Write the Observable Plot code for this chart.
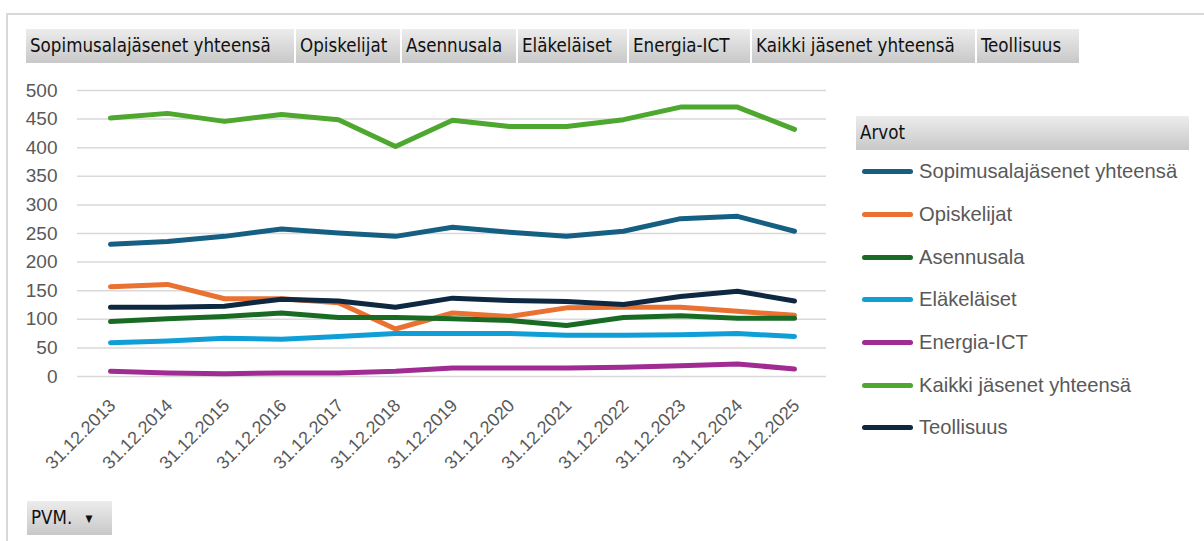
<!DOCTYPE html>
<html>
<head>
<meta charset="utf-8">
<script src="https://cdn.jsdelivr.net/npm/d3@7"></script>
<script src="https://cdn.jsdelivr.net/npm/@observablehq/plot@0.6"></script>
<style>
  html, body { margin: 0; padding: 0; background: #fff; }
  #root { position: relative; width: 1204px; height: 541px; overflow: hidden; background: #fff; }
  #frame { position: absolute; left: 6px; top: 13px; right: -10px; bottom: -10px; border: 2px solid #d9d9d9; }
  .btn { position: absolute; top: 29px; height: 34px; box-sizing: border-box;
         background: linear-gradient(#ececec, #c8c8c8); color: #111;
         font-family: "DejaVu Sans Condensed", "DejaVu Sans", sans-serif; font-size: 18.6px;
         line-height: 34px; padding-left: 4px; white-space: nowrap; overflow: hidden; }
  #chart { position: absolute; left: 0; top: 0; }
  #legend { position: absolute; left: 856px; top: 116px; width: 333px; font-family: "Liberation Sans", Arial, sans-serif; }
  #legend .head { height: 34px; line-height: 34px; background: linear-gradient(#ececec, #c8c8c8);
                  font-family: "DejaVu Sans Condensed", "DejaVu Sans", sans-serif; font-size: 18.6px; color: #111; padding-left: 4px; }
  #legend .item { position: absolute; left: 6px; height: 24px; display: flex; align-items: center; color: #595959; font-size: 20.2px; white-space: nowrap; }
  #legend .sw { width: 51px; height: 5px; border-radius: 3px; margin-right: 6px; }
</style>
</head>
<body>
<div id="root">
  <div id="frame"></div>
  <div id="buttons"></div>
  <div id="chart"></div>
  <div id="legend"><div class="head">Arvot</div></div>
  <div class="btn" style="top:501px; left:27px; width:85px; padding-left:4px;">PVM. <span style="font-size:10px; margin-left:8px; vertical-align:2px;">▼</span></div>
</div>
<script>
// ---- data ----
const dates = ["31.12.2013","31.12.2014","31.12.2015","31.12.2016","31.12.2017","31.12.2018","31.12.2019","31.12.2020","31.12.2021","31.12.2022","31.12.2023","31.12.2024","31.12.2025"];
const seriesNames = ["Sopimusalajäsenet yhteensä","Opiskelijat","Asennusala","Eläkeläiset","Energia-ICT","Kaikki jäsenet yhteensä","Teollisuus"];
const sopimusala  = [231, 236, 245, 258, 251, 245, 261, 252, 245, 254, 276, 280, 254];
const opiskelijat = [157, 161, 136, 136, 129, 83, 111, 105, 120, 121, 121, 114, 107];
const asennusala  = [96, 101, 105, 111, 103, 103, 101, 98, 89, 103, 106, 102, 102];
const elakelaiset = [59, 62, 67, 65, 70, 75, 75, 75, 72, 72, 73, 75, 70];
const energiaIct  = [9, 6, 5, 6, 6, 9, 15, 15, 15, 16, 19, 22, 13];
const kaikki      = [452, 460, 446, 458, 449, 402, 448, 437, 437, 449, 471, 471, 432];
const teollisuus  = [121, 121, 123, 135, 132, 121, 137, 133, 131, 126, 140, 149, 132];
const yTicks = [0, 50, 100, 150, 200, 250, 300, 350, 400, 450, 500];

// ---- styles / layout ----
const colors = ["#156082","#E97132","#196B24","#0F9ED5","#A02B93","#4EA72E","#0E2841"];
const buttonLefts  = [26, 296, 402, 518, 629, 752, 977];
const buttonWidths = [268, 104, 114, 109, 121, 223, 102];

const values = [sopimusala, opiskelijat, asennusala, elakelaiset, energiaIct, kaikki, teollisuus];
const data = seriesNames.flatMap((s, i) => dates.map((d, j) => ({series: s, date: d, value: values[i][j]})));

// field buttons
const btns = document.getElementById("buttons");
seriesNames.forEach((s, i) => {
  const b = document.createElement("div");
  b.className = "btn";
  b.style.left = buttonLefts[i] + "px";
  b.style.width = buttonWidths[i] + "px";
  b.textContent = s;
  btns.appendChild(b);
});

// chart
const chart = Plot.plot({
  width: 840,
  height: 476,
  marginLeft: 77,
  marginRight: 14,
  marginTop: 90,
  marginBottom: 100,
  style: {fontFamily: "'Liberation Sans', Arial, sans-serif", background: "transparent"},
  x: {type: "point", domain: dates, padding: 0.5},
  y: {domain: [0, 500]},
  color: {domain: seriesNames, range: colors},
  marks: [
    Plot.ruleY(yTicks, {stroke: "#d9d9d9", strokeWidth: 1.5}),
    Plot.axisY({ticks: yTicks, tickSize: 0, tickPadding: 20, fontSize: 19, color: "#595959", label: null}),
    Plot.axisX({tickSize: 0, tickRotate: -45, tickPadding: 26, fontSize: 18, dx: 2, color: "#595959", label: null}),
    Plot.line(data, {x: "date", y: "value", z: "series", stroke: "series", strokeWidth: 5,
                     strokeLinecap: "round", strokeLinejoin: "round"})
  ]
});
document.getElementById("chart").appendChild(chart);

// legend
const legend = document.getElementById("legend");
seriesNames.forEach((s, i) => {
  const it = document.createElement("div");
  it.className = "item";
  it.style.top = (43.7 + i * 42.7) + "px";
  const sw = document.createElement("div");
  sw.className = "sw";
  sw.style.background = colors[i];
  const tx = document.createElement("span");
  tx.textContent = s;
  it.appendChild(sw); it.appendChild(tx);
  legend.appendChild(it);
});
</script>
</body>
</html>
